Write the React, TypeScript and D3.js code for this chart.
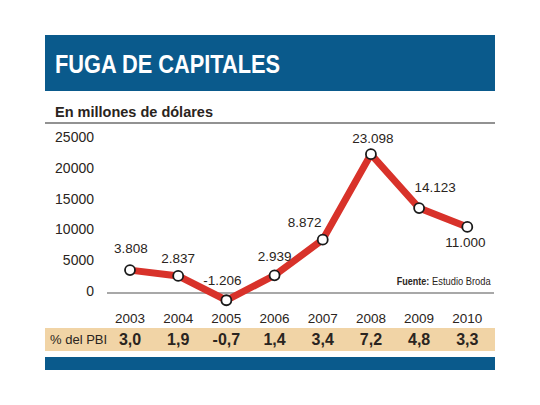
import React from "react";
import * as d3 from "d3";

const years = ["2003", "2004", "2005", "2006", "2007", "2008", "2009", "2010"];
const values = [3808, 2837, -1206, 2939, 8872, 23098, 14123, 11000];
const valueLabels = ["3.808", "2.837", "-1.206", "2.939", "8.872", "23.098", "14.123", "11.000"];
const pbi = ["3,0", "1,9", "-0,7", "1,4", "3,4", "7,2", "4,8", "3,3"];
const yTicks = [0, 5000, 10000, 15000, 20000, 25000];
// label placement offsets (dx, dy) relative to each point
const labelDx = [1, 0, -4, 0, -18, 2, 16, -2];
const labelDy = [-22, -18, -20, -19, -17, -16, -21, 15];

const BLUE = "#0a5a8c";
const RED = "#d8322a";
const TAN = "#f1d4a6";
const INK = "#2a2420";
const FONT = "'Liberation Sans', Arial, sans-serif";

export default function App() {
  const W = 540, H = 405;
  const x = d3.scalePoint<string>().domain(years).range([130, 467.3]);
  const y = d3.scaleLinear().domain([0, 25000]).range([293, 142.75]);
  const yTick = d3.scaleLinear().domain([0, 25000]).range([291, 137]);
  const line = d3
    .line<number>()
    .x((_, i) => x(years[i]) as number)
    .y((d) => y(d));

  return (
    <svg
      width={W}
      height={H}
      viewBox={`0 0 ${W} ${H}`}
      style={{ position: "absolute", left: 0, top: 0, background: "#fff" }}
      fontFamily={FONT}
    >
      <rect x={0} y={0} width={W} height={H} fill="#fff" />
      {/* title bar */}
      <rect x={45} y={35} width={450} height={56} fill={BLUE} />
      <text x={55} y={73} fill="#fff" fontSize={25} fontWeight="bold" textLength={225} lengthAdjust="spacingAndGlyphs">
        FUGA DE CAPITALES
      </text>
      {/* subtitle */}
      <text x={55} y={117} fill={INK} fontSize={15} fontWeight="bold" textLength={158} lengthAdjust="spacingAndGlyphs">
        En millones de dólares
      </text>
      <line x1={45} x2={495} y1={123} y2={123} stroke="#6e6e6e" strokeWidth={1.5} />

      {/* y tick labels */}
      {yTicks.map((t) => (
        <text key={t} x={94} y={yTick(t)} dy="0.35em" textAnchor="end" fontSize={14} fill={INK}>
          {t}
        </text>
      ))}
      {/* zero line */}
      <line x1={107} x2={494} y1={y(0)} y2={y(0)} stroke="#a8a8a8" strokeWidth={2} />

      {/* source */}
      <text x={396.7} y={285} fontSize={10.5} fontWeight="bold" fill={INK} textLength={32.6} lengthAdjust="spacingAndGlyphs">
        Fuente:
      </text>
      <text x={432} y={285} fontSize={10.5} fill={INK} textLength={58.7} lengthAdjust="spacingAndGlyphs">
        Estudio Broda
      </text>

      {/* data line */}
      <path d={line(values) || ""} fill="none" stroke={RED} strokeWidth={7} strokeLinejoin="miter" />
      {values.map((v, i) => (
        <circle key={years[i]} cx={x(years[i])} cy={y(v)} r={5} fill="#fff" stroke="#1a1a1a" strokeWidth={1.8} />
      ))}
      {values.map((v, i) => (
        <text
          key={"l" + years[i]}
          x={(x(years[i]) as number) + labelDx[i]}
          y={y(v) + labelDy[i]}
          dy="0.35em"
          textAnchor="middle"
          fontSize={13.5}
          fill={INK}
        >
          {valueLabels[i]}
        </text>
      ))}

      {/* year labels */}
      {years.map((yr) => (
        <text key={"y" + yr} x={x(yr)} y={318} dy="0.35em" textAnchor="middle" fontSize={13.5} fill={INK}>
          {yr}
        </text>
      ))}

      {/* PBI band */}
      <rect x={45} y={328} width={450} height={23} fill={TAN} />
      <text x={50} y={339.5} dy="0.35em" fontSize={13} fill={INK}>
        % del PBI
      </text>
      {pbi.map((p, i) => (
        <text key={"p" + years[i]} x={x(years[i])} y={339.5} dy="0.35em" textAnchor="middle" fontSize={16} fontWeight="bold" fill={INK}>
          {p}
        </text>
      ))}

      {/* bottom bar */}
      <rect x={45} y={357} width={450} height={13} fill={BLUE} />
    </svg>
  );
}
